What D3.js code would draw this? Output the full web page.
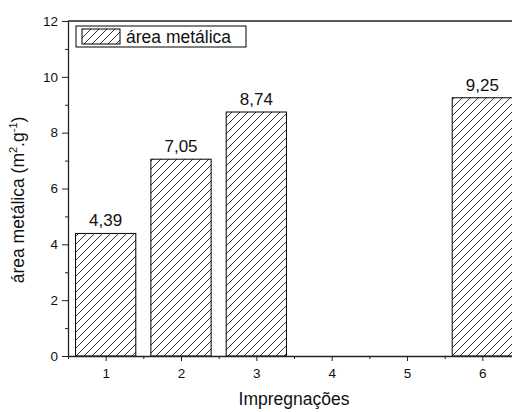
<!DOCTYPE html>
<html>
<head>
<meta charset="utf-8">
<script src="https://cdn.jsdelivr.net/npm/d3@7"></script>
<style>
  body { margin: 0; background: #fff; }
  svg { display: block; font-family: "Liberation Sans", Arial, sans-serif; }
  .axis path, .axis line { stroke: #222; }
  .axis text { font-size: 13.5px; fill: #111; }
</style>
</head>
<body>
<svg id="chart" width="512" height="412"></svg>
<script>
var categories = [1, 2, 3, 4, 5, 6];
var values = [4.39, 7.05, 8.74, null, null, 9.25];
var valueLabels = ['4,39', '7,05', '8,74', '', '', '9,25'];
var yMajorTicks = [0, 2, 4, 6, 8, 10, 12];
var yMinorTicks = [1, 3, 5, 7, 9, 11];
var xMinorTicks = [0.5, 1.5, 2.5, 3.5, 4.5, 5.5];
var seriesName = 'área metálica';
var xTitle = 'Impregnações';

(function() {
  var svg = d3.select('#chart');
  var plotLeft = 68, plotRight = 520, plotTop = 21, plotBottom = 356;
  var barWidth = 0.8;

  var x = d3.scaleLinear().domain([0.5, 6.5]).range([plotLeft, plotRight]);
  var y = d3.scaleLinear().domain([0, 12]).range([plotBottom, plotTop]);

  // hatch pattern
  var defs = svg.append('defs');
  var pat = defs.append('pattern')
    .attr('id', 'hatch')
    .attr('patternUnits', 'userSpaceOnUse')
    .attr('width', 8)
    .attr('height', 8);
  pat.append('rect').attr('width', 8).attr('height', 8).attr('fill', '#fff');
  pat.append('path')
    .attr('d', 'M0,8 L8,0 M-2,2 L2,-2 M6,10 L10,6')
    .attr('stroke', '#000')
    .attr('stroke-width', 0.8);

  var data = categories.map(function(c, i) {
    return { cat: c, value: values[i], label: valueLabels[i] };
  }).filter(function(d) { return d.value !== null; });

  // bars
  svg.append('g').selectAll('rect')
    .data(data)
    .enter().append('rect')
    .attr('x', function(d) { return x(d.cat - barWidth / 2); })
    .attr('y', function(d) { return y(d.value); })
    .attr('width', function(d) { return x(d.cat + barWidth / 2) - x(d.cat - barWidth / 2); })
    .attr('height', function(d) { return y(0) - y(d.value); })
    .attr('fill', 'url(#hatch)')
    .attr('stroke', '#000')
    .attr('stroke-width', 1);

  // value labels
  svg.append('g').selectAll('text')
    .data(data)
    .enter().append('text')
    .attr('x', function(d) { return x(d.cat); })
    .attr('y', function(d) { return y(d.value) - 7; })
    .attr('text-anchor', 'middle')
    .attr('font-size', 17)
    .attr('fill', '#111')
    .text(function(d) { return d.label; });

  // frame top + right
  svg.append('line')
    .attr('x1', plotLeft).attr('x2', plotRight)
    .attr('y1', plotTop).attr('y2', plotTop)
    .attr('stroke', '#222').attr('stroke-width', 1.3);
  svg.append('line')
    .attr('x1', plotRight).attr('x2', plotRight)
    .attr('y1', plotTop).attr('y2', plotBottom)
    .attr('stroke', '#222').attr('stroke-width', 1.3);

  // y axis
  svg.append('g')
    .attr('class', 'axis')
    .attr('transform', 'translate(' + plotLeft + ',0)')
    .call(d3.axisLeft(y).tickValues(yMajorTicks).tickSize(6).tickPadding(4).tickSizeOuter(0))
    .selectAll('path').attr('stroke-width', 1.3);
  svg.append('g')
    .attr('class', 'axis')
    .attr('transform', 'translate(' + plotLeft + ',0)')
    .call(d3.axisLeft(y).tickValues(yMinorTicks).tickSize(3).tickFormat(''))
    .select('.domain').remove();

  // x axis
  svg.append('g')
    .attr('class', 'axis')
    .attr('transform', 'translate(0,' + plotBottom + ')')
    .call(d3.axisBottom(x).tickValues(categories).tickSize(5).tickPadding(7).tickSizeOuter(0).tickFormat(d3.format('d')))
    .selectAll('path').attr('stroke-width', 1.3);
  svg.append('g')
    .attr('class', 'axis')
    .attr('transform', 'translate(0,' + plotBottom + ')')
    .call(d3.axisBottom(x).tickValues(xMinorTicks).tickSize(3).tickFormat(''))
    .select('.domain').remove();

  // axis titles
  svg.append('text')
    .attr('x', (plotLeft + plotRight) / 2)
    .attr('y', 405)
    .attr('text-anchor', 'middle')
    .attr('font-size', 17.5)
    .attr('fill', '#111')
    .text(xTitle);

  var yt = svg.append('text')
    .attr('transform', 'translate(24,200) rotate(-90)')
    .attr('text-anchor', 'middle')
    .attr('font-size', 17.5)
    .attr('fill', '#111');
  yt.append('tspan').text(seriesName + ' (m');
  yt.append('tspan').attr('font-size', 11).attr('dy', -7).text('2');
  yt.append('tspan').attr('dy', 7).text('.g');
  yt.append('tspan').attr('font-size', 11).attr('dy', -7).text('-1');
  yt.append('tspan').attr('dy', 7).text(')');

  // legend
  var lg = svg.append('g');
  lg.append('rect')
    .attr('x', 76).attr('y', 26)
    .attr('width', 170).attr('height', 21)
    .attr('fill', '#fff')
    .attr('stroke', '#000').attr('stroke-width', 1);
  lg.append('rect')
    .attr('x', 82).attr('y', 29)
    .attr('width', 38).attr('height', 15)
    .attr('fill', 'url(#hatch)')
    .attr('stroke', '#000').attr('stroke-width', 1);
  lg.append('text')
    .attr('x', 126).attr('y', 43)
    .attr('font-size', 17.5)
    .attr('fill', '#111')
    .text(seriesName);
})();
</script>
</body>
</html>
